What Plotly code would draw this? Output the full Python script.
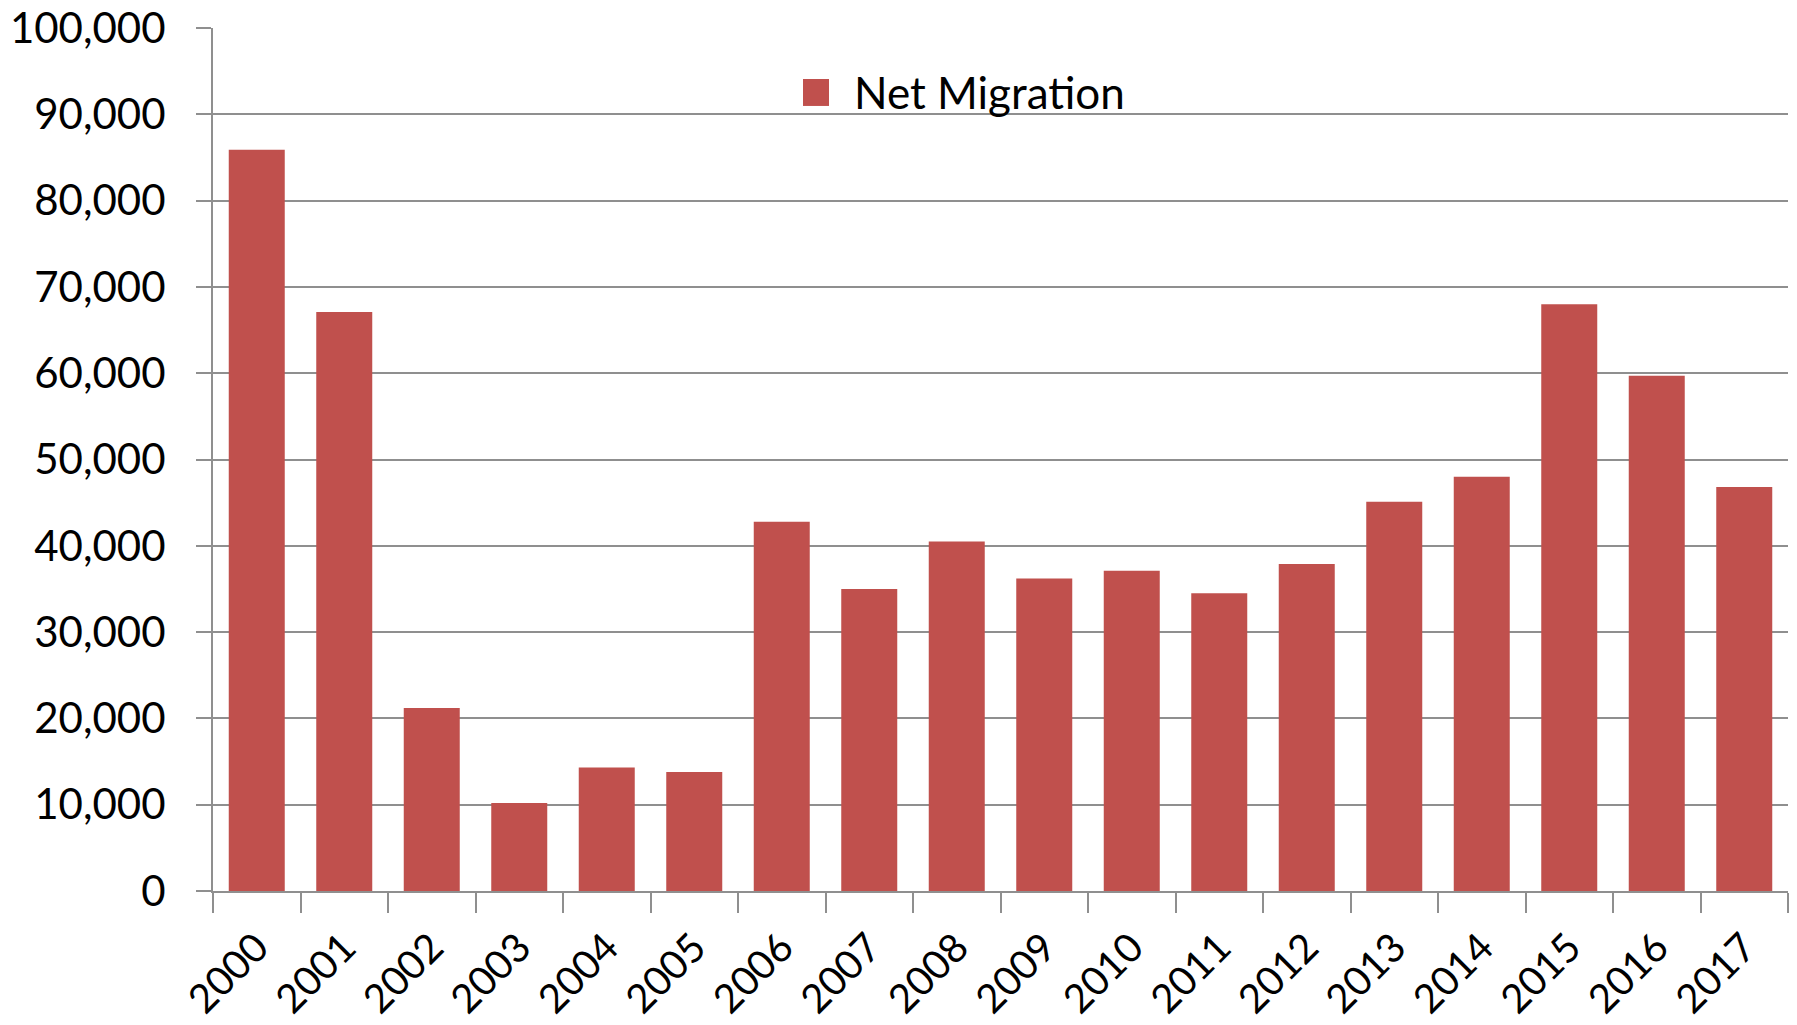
import plotly.graph_objects as go

years = [str(y) for y in range(2000, 2018)]
net_migration = [85900, 67100, 21200, 10200, 14300, 13800, 42800, 35000, 40500,
                 36200, 37100, 34500, 37900, 45100, 48000, 68000, 59700, 46800]
y_ticks = list(range(0, 100001, 10000))
series_name = "Net Migration"

BAR_COLOR = "#C0504D"
GRID = "#8f8f8f"
FONT = "Lato, Open Sans, sans-serif"

fig = go.Figure()
fig.add_trace(go.Bar(
    x=years, y=net_migration, name=series_name,
    marker=dict(color=BAR_COLOR, line=dict(width=0)),
    showlegend=False,
))

W, H = 1797, 1025
L, R, T, B = 213, 9, 28, 133.5
PW = W - L - R
PH = H - T - B

def px_x(v):
    return (v - L) / PW

def px_y(v):
    return (H - B - v) / PH

# legend swatch + label (Excel-style large square)
fig.add_shape(type="rect", xref="paper", yref="paper",
              x0=px_x(803), x1=px_x(829), y0=px_y(106), y1=px_y(79),
              fillcolor=BAR_COLOR, line=dict(width=0))
fig.add_annotation(xref="paper", yref="paper", x=px_x(852), y=px_y(92),
                   xanchor="left", yanchor="middle", showarrow=False,
                   text=series_name,
                   font=dict(family=FONT, size=44, color="black"))

fig.update_layout(
    width=W, height=H,
    margin=dict(l=L, r=R, t=T, b=B, autoexpand=False),
    paper_bgcolor="white", plot_bgcolor="white",
    bargap=0.36,
    font=dict(family=FONT, size=42, color="black"),
    showlegend=False,
    xaxis=dict(
        type="category",
        tickangle=-45,
        ticks="outside", ticklen=20, tickwidth=2, tickcolor=GRID,
        tickson="boundaries",
        showline=True, linecolor=GRID, linewidth=2,
        showgrid=False, zeroline=False,
        ticklabelstandoff=15,
        tickfont=dict(family=FONT, size=40, color="black"),
        automargin=False,
    ),
    yaxis=dict(
        range=[0, 100000],
        tickvals=y_ticks,
        tickformat=",",
        ticks="outside", ticklen=15, tickwidth=2, tickcolor=GRID,
        showline=True, linecolor=GRID, linewidth=2,
        showgrid=True, gridcolor=GRID, gridwidth=2,
        zeroline=False,
        ticklabelstandoff=22,
        tickfont=dict(family=FONT, size=42, color="black"),
        automargin=False,
    ),
)

fig.write_html("out.html",
               config={"displayModeBar": False},
               post_script="document.body.style.margin='0';document.body.style.overflow='hidden';")
